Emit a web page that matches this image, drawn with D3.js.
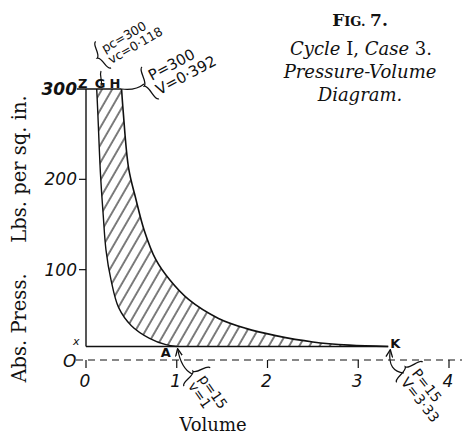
<!DOCTYPE html>
<html>
<head>
<meta charset="utf-8">
<script src="https://cdn.jsdelivr.net/npm/d3@7"></script>
<style>
  body { margin: 0; background: #fff; }
  svg { display: block; }
  .hand { font-family: "DejaVu Sans", sans-serif; fill: #111; }
  .serif { font-family: "DejaVu Serif", serif; fill: #111; }
</style>
</head>
<body>
<svg id="chart" width="462" height="435"></svg>
<script>
// volume (cu. ft.) / pressure (lbs. per sq. in.)
const compressionCurve = [ // G -> A
    [0.118, 300], [0.13, 274], [0.16, 205], [0.19, 160], [0.22, 122], [0.275, 89],
    [0.36, 58], [0.5, 38], [0.7, 24], [0.88, 17], [1.0, 15]
];
const expansionCurve = [ // H -> K
    [0.392, 300], [0.41, 275], [0.47, 212], [0.55, 178], [0.64, 144], [0.77, 111],
    [0.92, 89], [1.13, 67], [1.46, 46], [1.76, 35], [2.09, 27], [2.5, 20],
    [2.9, 16.5], [3.33, 15]
];
const pointZ = [0, 300];
const pointG = [0.118, 300];
const pointH = [0.392, 300];
const pointA = [1.0, 15];
const pointK = [3.33, 15];
const lowPressure = 15;
const xTicks = [0, 1, 2, 3, 4];
const yTicks = [100, 200, 300];

const svg = d3.select("#chart");

const x = d3.scaleLinear().domain([0, 4]).range([86, 449]);
const y = d3.scaleLinear().domain([0, 300]).range([360, 89]);

// hatch pattern
const defs = svg.append("defs");
defs.append("pattern")
    .attr("id", "hatch")
    .attr("patternUnits", "userSpaceOnUse")
    .attr("width", 8.8)
    .attr("height", 8.8)
    .attr("patternTransform", "rotate(30)")
    .append("line")
    .attr("x1", 1).attr("y1", 0)
    .attr("x2", 1).attr("y2", 8.8)
    .attr("stroke", "#111")
    .attr("stroke-width", 1.1);

defs.append("marker")
    .attr("id", "arrow")
    .attr("viewBox", "0 0 10 10")
    .attr("refX", 8).attr("refY", 5)
    .attr("markerWidth", 7).attr("markerHeight", 7)
    .attr("orient", "auto")
    .append("path")
    .attr("d", "M0,1 L9,5 L0,9")
    .attr("fill", "none")
    .attr("stroke", "#111")
    .attr("stroke-width", 1.6);

const line = d3.line()
    .x(d => x(d[0]))
    .y(d => y(d[1]))
    .curve(d3.curveCatmullRom.alpha(0.5));

// hatched work area: H -> K, K -> A, A -> G, G -> H
const outerPath = line(expansionCurve);
const innerPath = line(compressionCurve.slice().reverse());
svg.append("path")
    .attr("d", outerPath + "L" + innerPath.slice(1) + "Z")
    .attr("fill", "url(#hatch)")
    .attr("stroke", "none");

svg.append("path")
    .attr("d", outerPath)
    .attr("fill", "none").attr("stroke", "#111").attr("stroke-width", 1.6);
svg.append("path")
    .attr("d", line(compressionCurve))
    .attr("fill", "none").attr("stroke", "#111").attr("stroke-width", 1.4);

// zero line (dashed)
svg.append("line")
    .attr("x1", 76).attr("x2", 462)
    .attr("y1", y(0)).attr("y2", y(0))
    .attr("stroke", "#111").attr("stroke-width", 1.2)
    .attr("stroke-dasharray", "7,5");

// line at 15 lbs
svg.append("line")
    .attr("x1", x(0)).attr("x2", x(pointK[0]))
    .attr("y1", y(lowPressure)).attr("y2", y(lowPressure))
    .attr("stroke", "#111").attr("stroke-width", 1.4);

// vertical axis (clearance volume)
svg.append("line")
    .attr("x1", x(0)).attr("x2", x(0))
    .attr("y1", y(lowPressure)).attr("y2", y(300))
    .attr("stroke", "#111").attr("stroke-width", 1.4);

// top line Z - H
svg.append("line")
    .attr("x1", 77).attr("x2", x(pointH[0]))
    .attr("y1", y(300)).attr("y2", y(300))
    .attr("stroke", "#111").attr("stroke-width", 1.4);

// y ticks
svg.selectAll(".ytick")
    .data(yTicks.filter(d => d < 300))
    .enter().append("line")
    .attr("x1", x(0) - 7).attr("x2", x(0))
    .attr("y1", d => y(d)).attr("y2", d => y(d))
    .attr("stroke", "#111").attr("stroke-width", 1.2);

svg.selectAll(".ylabel")
    .data(yTicks)
    .enter().append("text")
    .attr("class", "hand")
    .attr("x", 77)
    .attr("y", d => y(d) + 6)
    .attr("text-anchor", "end")
    .attr("font-size", 17)
    .attr("font-style", "italic")
    .attr("font-weight", d => d === 300 ? "bold" : "normal")
    .text(d => d);

// x ticks
svg.selectAll(".xtick")
    .data(xTicks)
    .enter().append("line")
    .attr("x1", d => x(d)).attr("x2", d => x(d))
    .attr("y1", y(0)).attr("y2", y(0) + 8)
    .attr("stroke", "#111").attr("stroke-width", 1.2);

svg.selectAll(".xlabel")
    .data(xTicks)
    .enter().append("text")
    .attr("class", "hand")
    .attr("x", d => x(d) - 1)
    .attr("y", y(0) + 27)
    .attr("text-anchor", "middle")
    .attr("font-size", 17)
    .attr("font-style", "italic")
    .text(d => d);

// "O" and "x" at the left
svg.append("text").attr("class", "hand")
    .attr("x", 63).attr("y", y(0) + 7)
    .attr("font-size", 17).attr("font-style", "italic")
    .text("O");
svg.append("text").attr("class", "hand")
    .attr("x", 73).attr("y", y(lowPressure) - 1)
    .attr("font-size", 11).attr("font-style", "italic")
    .text("x");

// point letters
const letterFont = 13;
svg.append("text").attr("class", "hand").attr("font-weight", "bold").attr("font-size", letterFont)
    .attr("x", 78).attr("y", y(300) - 1).text("Z");
svg.append("text").attr("class", "hand").attr("font-weight", "bold").attr("font-size", letterFont)
    .attr("x", x(pointG[0]) - 2).attr("y", y(300) - 1).text("G");
svg.append("text").attr("class", "hand").attr("font-weight", "bold").attr("font-size", letterFont)
    .attr("x", x(pointH[0]) - 12).attr("y", y(300) - 1).text("H");
svg.append("text").attr("class", "hand").attr("font-weight", "bold").attr("font-size", letterFont)
    .attr("x", x(pointA[0]) - 16).attr("y", y(lowPressure) + 11).text("A");
svg.append("text").attr("class", "hand").attr("font-weight", "bold").attr("font-size", letterFont)
    .attr("x", x(pointK[0]) + 2).attr("y", y(lowPressure) + 2).text("K");

function brace(g, u, v0, v1) {
    const m = (v0 + v1) / 2;
    g.append("path")
        .attr("d", `M${u + 4},${v0} C${u - 1},${v0} ${u + 2},${m - 2} ${u - 3},${m}` +
                   ` C${u + 2},${m + 2} ${u - 1},${v1} ${u + 4},${v1}`)
        .attr("fill", "none").attr("stroke", "#111").attr("stroke-width", 1.3);
}

function note(cx, cy, angle, size, lines, gap) {
    const g = svg.append("g").attr("transform", `translate(${cx},${cy}) rotate(${angle})`);
    brace(g, -4, -size - 2, gap + 3);
    lines.forEach((t, i) => {
        g.append("text").attr("class", "hand")
            .attr("x", 2).attr("y", i * gap)
            .attr("font-size", size)
            .text(t);
    });
    return g;
}

// G note
note(103, 54, -30, 12.5, ["pc=300", "vc=0·118"], 13);
svg.append("path")
    .attr("d", "M101,71 C99,76 103,80 101,86")
    .attr("fill", "none").attr("stroke", "#111").attr("stroke-width", 1.2);

// H note
note(150, 82, -28, 15, ["P=300", "V=0·392"], 16);
svg.append("path")
    .attr("d", `M${x(pointH[0])},${y(300)} C130,90 138,89 144,84`)
    .attr("fill", "none").attr("stroke", "#111").attr("stroke-width", 1.2);

// A note
svg.append("path")
    .attr("d", `M192,374 C184,370 180,362 ${x(pointA[0]) + 1},${y(lowPressure) + 3}`)
    .attr("fill", "none").attr("stroke", "#111").attr("stroke-width", 1.2)
    .attr("marker-end", "url(#arrow)");
note(197, 377, 55, 14, ["p=15", "v=1"], 13);

// K note
svg.append("path")
    .attr("d", `M404,373 C394,372 388,366 ${x(pointK[0]) + 2},${y(lowPressure) + 4}`)
    .attr("fill", "none").attr("stroke", "#111").attr("stroke-width", 1.2)
    .attr("marker-end", "url(#arrow)");
note(410, 372, 52, 14, ["P=15", "V=3·33"], 14);

// axis titles
svg.append("text").attr("class", "serif")
    .attr("x", x(1.4)).attr("y", 431)
    .attr("text-anchor", "middle")
    .attr("font-size", 18)
    .text("Volume");

svg.append("text").attr("class", "serif")
    .attr("transform", "translate(26,328) rotate(-90)")
    .attr("text-anchor", "middle")
    .attr("font-size", 19.5)
    .text("Abs. Press.");
svg.append("text").attr("class", "serif")
    .attr("transform", "translate(26,169) rotate(-90)")
    .attr("text-anchor", "middle")
    .attr("font-size", 19.5)
    .text("Lbs. per sq. in.");

// title block
const title = svg.append("g").attr("class", "serif").attr("text-anchor", "middle");
const fig = title.append("text").attr("x", 360).attr("y", 26).attr("font-weight", "bold");
fig.append("tspan").attr("font-size", 17).text("F");
fig.append("tspan").attr("font-size", 13).text("IG. ");
fig.append("tspan").attr("font-size", 17).text("7.");

const cyc = title.append("text").attr("x", 361).attr("y", 55).attr("font-size", 18);
cyc.append("tspan").attr("font-style", "italic").text("Cycle ");
cyc.append("tspan").text("I, ");
cyc.append("tspan").attr("font-style", "italic").text("Case ");
cyc.append("tspan").text("3.");

title.append("text").attr("x", 360).attr("y", 78).attr("font-size", 18)
    .attr("font-style", "italic").text("Pressure-Volume");
title.append("text").attr("x", 360).attr("y", 101).attr("font-size", 18)
    .attr("font-style", "italic").text("Diagram.");
</script>
</body>
</html>
